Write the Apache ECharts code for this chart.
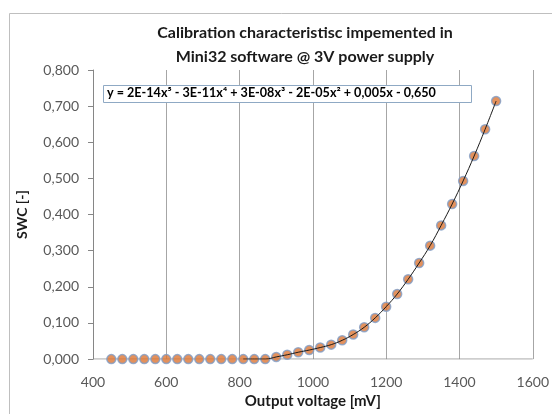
<!DOCTYPE html>
<html>
<head>
<meta charset="utf-8">
<script src="https://cdn.jsdelivr.net/npm/echarts@6/dist/echarts.min.js"></script>
<style>html,body{margin:0;padding:0;background:#fff}#c{width:552px;height:414px}</style>
</head>
<body>
<div id="c"></div>
<script>
var voltage = [450,480,510,540,570,600,630,660,690,720,750,780,810,840,870,900,930,960,990,1020,1050,1080,1110,1140,1170,1200,1230,1260,1290,1320,1350,1380,1410,1440,1470,1500];
var swc = [0,0,0,0,0,0,0,0,0,0,0,0,0,0,0,0.006,0.012,0.019,0.025,0.032,0.040,0.052,0.068,0.088,0.114,0.145,0.180,0.221,0.266,0.314,0.370,0.429,0.493,0.562,0.636,0.714];
var trendStart = 810;
var xTicks = [400,600,800,1000,1200,1400,1600];
var yTicks = [0,0.1,0.2,0.3,0.4,0.5,0.6,0.7,0.8];
var titleLines = ['Calibration characteristisc impemented in','Mini32 software @ 3V power supply'];
var equation = 'y = 2E-14x\u2075 - 3E-11x\u2074 + 3E-08x\u00B3 - 2E-05x\u00B2 + 0,005x - 0,650';
var xName = 'Output voltage [mV]';
var yName = 'SWC [-]';

var points = voltage.map(function(v,i){return [v, swc[i]];});
var trend = points.filter(function(p){return p[0] >= trendStart;});
var FONT = 'Lato';

var chart = echarts.init(document.getElementById('c'), null, {renderer:'canvas'});
chart.setOption({
  animation:false,
  backgroundColor:'#fff',
  textStyle:{fontFamily:FONT},
  title:{
    text:titleLines.join('\n'),
    left:300, top:16, textAlign:'center',
    textStyle:{fontFamily:FONT,fontSize:16,fontWeight:'bold',color:'#1a1a1a',lineHeight:24}
  },
  graphic:[
    {type:'rect',shape:{x:9.5,y:13.5,width:600,height:500},style:{fill:'none',stroke:'#bfbfbf',lineWidth:1},z:-1},
    {type:'rect',shape:{x:103.5,y:85.5,width:368,height:17},style:{fill:'#fff',stroke:'#8fa9c4',lineWidth:1},z:100},
    {type:'text',left:107,top:86,z:101,style:{text:equation,font:'bold 12.6px '+FONT,fill:'#000'}}
  ],
  grid:{left:93,right:17,top:70,bottom:54.5,containLabel:false},
  xAxis:{
    type:'value',min:xTicks[0],max:xTicks[xTicks.length-1],interval:200,
    name:xName,nameLocation:'middle',nameGap:34,
    nameTextStyle:{fontFamily:FONT,fontSize:15,fontWeight:'bold',color:'#1a1a1a'},
    axisLine:{show:false},
    axisTick:{show:false},
    axisLabel:{margin:16,fontSize:14,color:'#595959',fontFamily:FONT,
      formatter:function(v){return String(v);}},
    splitLine:{show:true,lineStyle:{color:'#a6a6a6',width:1}}
  },
  yAxis:{
    type:'value',min:yTicks[0],max:yTicks[yTicks.length-1],interval:0.1,
    name:yName,nameLocation:'middle',nameGap:64,nameRotate:90,
    nameTextStyle:{fontFamily:FONT,fontSize:14,fontWeight:'bold',color:'#1a1a1a'},
    axisLine:{show:true,lineStyle:{color:'#868686'}},
    axisTick:{show:true,length:5,lineStyle:{color:'#868686'}},
    axisLabel:{margin:14,fontSize:14,color:'#595959',fontFamily:FONT,
      formatter:function(v){return v.toFixed(3).replace('.',',');}},
    splitLine:{show:false}
  },
  series:[
    {
      type:'line',data:[[400,0],[1600,0]],symbol:'none',silent:true,
      lineStyle:{color:'#868686',width:1},z:1
    },
    {
      type:'scatter',data:points,symbol:'circle',symbolSize:9,
      itemStyle:{color:'#dd7633',borderColor:'#7f9cc6',borderWidth:1.5},z:2
    },
    {
      type:'line',data:trend,smooth:0.4,symbol:'none',
      lineStyle:{color:'#1a1a1a',width:1},z:3
    }
  ]
});
</script>
</body>
</html>
